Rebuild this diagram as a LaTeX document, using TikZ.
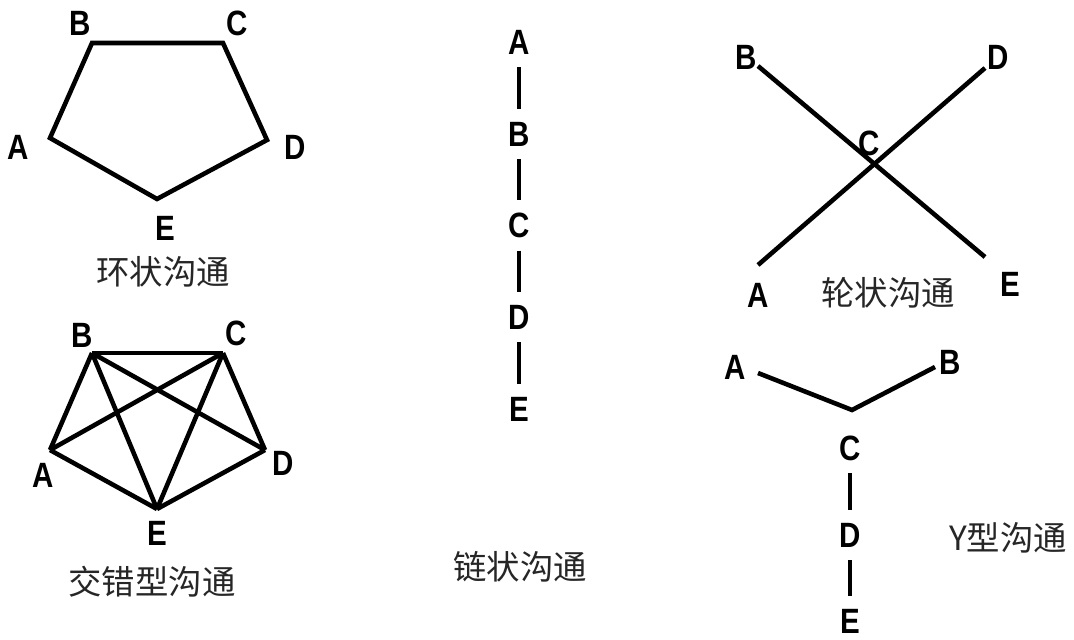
\documentclass[tikz,border=0pt]{standalone}
\usepackage{fontspec}
\newfontfamily\labfont{Liberation Sans}[FakeStretch=0.84]
\newfontfamily\cjkfont{Noto Sans CJK SC}
\usetikzlibrary{positioning}

\begin{document}
\begin{tikzpicture}[
  x=0.02cm, y=-0.02cm,
  node distance=1.32cm,
  lbl/.style={font=\labfont\bfseries\fontsize{20}{20}\selectfont, inner sep=0pt, text height=0.5cm, text depth=0pt},
  netname/.style={font=\cjkfont\fontsize{19}{19}\selectfont, text=black!85, inner sep=0pt},
  link/.style={line width=2.6pt},
  stick/.style={line width=2.6pt, shorten <=7pt, shorten >=7pt}
]
\useasboundingbox (0,0) rectangle (1074,639);

% ring
\coordinate (rA) at (50,138);
\coordinate (rB) at (92,43);
\coordinate (rC) at (223,43);
\coordinate (rD) at (267,140);
\coordinate (rE) at (157,199);
\node[lbl] (rlA) at (18,147) {A};
\node[lbl] (rlB) at (80,23) {B};
\node[lbl] (rlC) at (237,23) {C};
\node[lbl] (rlD) at (295,147) {D};
\node[lbl] (rlE) at (165,228) {E};
\node[netname] (ring) at (163,272) {环状沟通};
\draw[link] (rA) -- (rB) -- (rC) -- (rD) -- (rE) -- cycle;

% all-channel
\coordinate (xA) at (50,450);
\coordinate (xB) at (92,353);
\coordinate (xC) at (223,353);
\coordinate (xD) at (265,450);
\coordinate (xE) at (157,509);
\node[lbl] (xlA) at (43,475) {A};
\node[lbl] (xlB) at (82,335) {B};
\node[lbl] (xlC) at (236,333) {C};
\node[lbl] (xlD) at (283,463) {D};
\node[lbl] (xlE) at (157,533) {E};
\node[netname] (cross) at (152,582) {交错型沟通};
\foreach \u/\v in {xA/xB, xA/xC, xA/xE, xB/xC, xB/xD, xB/xE, xC/xD, xC/xE, xD/xE}
  \draw[link] (\u) -- (\v);

% chain
\node[lbl] (cA) at (519,42) {A};
\node[lbl, below=of cA] (cB) {B};
\node[lbl, below=of cB] (cC) {C};
\node[lbl, below=of cC] (cD) {D};
\node[lbl, below=of cD] (cE) {E};
\node[netname] (chain) at (520,567) {链状沟通};
\foreach \u/\v in {cA/cB, cB/cC, cC/cD, cD/cE}
  \draw[stick] (\u) -- (\v);

% wheel
\coordinate (wA) at (758,265);
\coordinate (wB) at (758,66);
\coordinate (wD) at (985,68);
\coordinate (wE) at (985,257);
\node[lbl] (wlA) at (758,295) {A};
\node[lbl] (wlB) at (746,57) {B};
\node[lbl] (wlC) at (869,143) {C};
\node[lbl] (wlD) at (998,57) {D};
\node[lbl] (wlE) at (1010,284) {E};
\node[netname] (wheel) at (888,293) {轮状沟通};
\draw[link] (wB) -- (wE);
\draw[link] (wA) -- (wD);

% Y
\coordinate (yA) at (758,373);
\coordinate (yJ) at (852,410);
\coordinate (yB) at (935,367);
\node[lbl] (ylA) at (735,367) {A};
\node[lbl] (ylB) at (950,362) {B};
\node[lbl] (yC) at (850,448) {C};
\node[lbl, below=1.22cm of yC] (yD) {D};
\node[lbl, below=1.22cm of yD] (yE) {E};
\node[netname] (yshape) at (1008,538) {Y型沟通};
\draw[link] (yA) -- (yJ) -- (yB);
\foreach \u/\v in {yC/yD, yD/yE}
  \draw[stick] (\u) -- (\v);
\end{tikzpicture}
\end{document}
